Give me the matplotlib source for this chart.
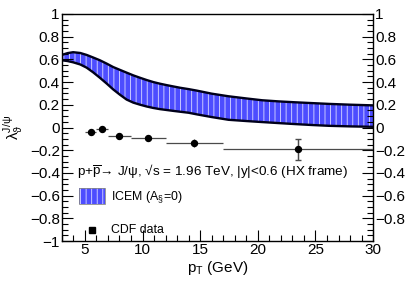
import matplotlib
matplotlib.use("Agg")
import matplotlib.pyplot as plt
from matplotlib.patches import Rectangle
import numpy as np

plt.rcParams['font.family'] = ['Liberation Sans', 'DejaVu Sans']
plt.rcParams['mathtext.fontset'] = 'custom'
plt.rcParams['mathtext.rm'] = 'Liberation Sans'
plt.rcParams['mathtext.it'] = 'Liberation Sans:italic'
plt.rcParams['mathtext.bf'] = 'Liberation Sans:bold'
plt.rcParams['hatch.linewidth'] = 0.6

# ICEM band (A=0): upper and lower edges
hi_pt = [3.0, 3.5, 3.98, 4.6, 5.15, 5.7, 6.3, 6.9, 7.46, 8.05, 8.62, 9.2, 9.78, 10.36, 10.94,
         11.5, 12.1, 12.7, 13.26, 14.0, 14.7, 16.0, 17.46, 19.0, 20.37, 21.8, 23.26, 24.7,
         26.16, 28.0, 30.0]
hi_val = [0.639, 0.655, 0.663, 0.656, 0.639, 0.617, 0.592, 0.562, 0.532, 0.507, 0.483,
          0.459, 0.438, 0.418, 0.40, 0.386, 0.373, 0.361, 0.35, 0.338, 0.325, 0.298,
          0.275, 0.256, 0.24, 0.23, 0.222, 0.215, 0.208, 0.201, 0.195]
lo_pt = [3.0, 3.5, 3.98, 4.6, 5.15, 5.7, 6.3, 6.9, 7.46, 8.05, 8.62, 9.2, 9.78, 10.36,
         10.94, 11.5, 12.1, 12.7, 13.26, 14.0, 14.7, 16.0, 17.46, 19.0, 20.37, 21.8, 23.26,
         24.7, 26.16, 28.0, 30.0]
lo_val = [0.592, 0.585, 0.574, 0.555, 0.527, 0.487, 0.438, 0.386, 0.335, 0.288, 0.246,
          0.219, 0.201, 0.185, 0.172, 0.162, 0.154, 0.146, 0.139, 0.130, 0.116, 0.092,
          0.068, 0.057, 0.048, 0.039, 0.030, 0.022, 0.015, 0.010, 0.006]

# CDF data
cdf_pt = [5.5, 6.5, 8.0, 10.5, 14.5, 23.5]
cdf_ptlo = [5.0, 6.0, 7.0, 9.0, 12.0, 17.0]
cdf_pthi = [6.0, 7.0, 9.0, 12.0, 17.0, 30.0]
cdf_val = [-0.038, -0.015, -0.077, -0.095, -0.136, -0.19]
cdf_err = [0.02, 0.02, 0.012, 0.015, 0.035, 0.093]

yticks = [-1, -0.8, -0.6, -0.4, -0.2, 0, 0.2, 0.4, 0.6, 0.8, 1]
ytick_labels = ['\u22121', '\u22120.8', '\u22120.6', '\u22120.4', '\u22120.2', '0',
                '0.2', '0.4', '0.6', '0.8', '1']

band_face = '#4d4dff'
band_hatch = '#dcdcff'
line_col = '#00001a'

fig = plt.figure(figsize=(4.15, 2.84), dpi=100)
ax = fig.add_axes([0.149, 0.151, 0.750, 0.800])

ax.fill(list(hi_pt) + list(lo_pt)[::-1], list(hi_val) + list(lo_val)[::-1],
        facecolor=band_face, edgecolor=band_hatch, hatch='|||', linewidth=0, zorder=1)
ax.plot(hi_pt, hi_val, color=line_col, lw=1.7, zorder=2)
ax.plot(lo_pt, lo_val, color=line_col, lw=1.7, zorder=2)

xerr = [np.array(cdf_pt) - np.array(cdf_ptlo), np.array(cdf_pthi) - np.array(cdf_pt)]
ax.errorbar(cdf_pt, cdf_val, xerr=xerr, yerr=cdf_err, fmt='none', ecolor='#4a4a4a',
            elinewidth=0.9, capsize=0, zorder=3)
ax.errorbar(cdf_pt[-1:], cdf_val[-1:], yerr=cdf_err[-1:], fmt='none', ecolor='#4a4a4a',
            elinewidth=0.9, capsize=2.2, zorder=3)
ax.plot(cdf_pt, cdf_val, 'o', color='black', ms=4.3, zorder=4)

ax.set_xlim(3, 30)
ax.set_ylim(-1, 1)
ax.set_xticks([5, 10, 15, 20, 25, 30])
ax.set_xticks(np.arange(3, 31, 1), minor=True)
ax.set_yticks(yticks)
ax.set_yticks(np.arange(-1, 1.01, 0.05), minor=True)
ax.set_yticklabels(ytick_labels)
ax.tick_params(axis='both', which='major', direction='in', length=8, width=0.8,
               labelsize=11, pad=1.5)
ax.tick_params(axis='both', which='minor', direction='in', length=4, width=0.8)
ax.tick_params(axis='x', which='both', top=False)
ax.tick_params(axis='y', which='both', left=True, right=True, labelright=True)
for t in ax.yaxis.get_major_ticks():
    if abs(t.get_loc() + 1) < 1e-6:
        t.label2.set_visible(False)

for s in ax.spines.values():
    s.set_linewidth(1.0)

ax.set_xlabel(r'p$_{\rm T}$ (GeV)', fontsize=11, labelpad=1)
ax.set_ylabel(r'$\mathrm{\lambda}_{\mathrm{\vartheta}}^{\mathrm{J/\psi}}$', fontsize=11, labelpad=3)

ax.text(4.3, -0.384, r'p+$\overline{\rm p}$' + '\u2192 J/\u03c8, \u221as = 1.96 TeV, |y|<0.6 (HX frame)',
        fontsize=9.7, va='center', ha='left')

# legend drawn by hand
ax.add_patch(Rectangle((4.48, -0.675), 2.26, 0.142, facecolor=band_face, edgecolor=band_hatch,
                       hatch='|||', linewidth=0, zorder=5))
ax.add_patch(Rectangle((4.48, -0.675), 2.26, 0.142, facecolor='none', edgecolor='#888888',
                       linewidth=0.6, zorder=6))
ax.text(7.26, -0.61, r'ICEM (A$_{\S}$=0)', fontsize=8.9, va='center', ha='left')
ax.plot([5.6], [-0.9], 's', color='black', ms=4, zorder=5)
ax.text(7.26, -0.9, 'CDF data', fontsize=8.9, va='center', ha='left')

fig.savefig('out.png', dpi=100)
